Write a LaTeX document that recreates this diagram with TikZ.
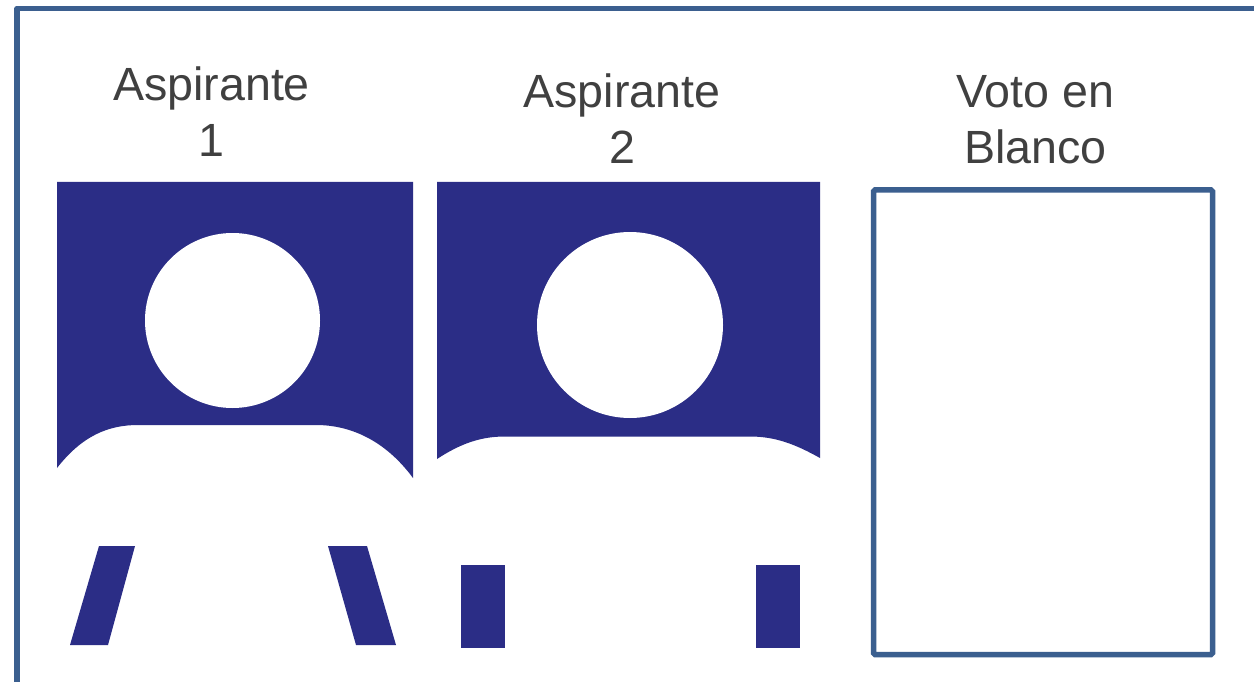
\documentclass[tikz,border=0pt]{standalone}
\usepackage{fontspec}
\setmainfont{Liberation Sans}
\definecolor{frameblue}{HTML}{3B5F8F}
\definecolor{figblue}{HTML}{2B2D86}
\definecolor{labelgrey}{HTML}{404040}
\tikzset{
  framepath/.style={draw=frameblue,line width=5.5pt},
  figfill/.style={fill=figblue,draw=none},
  headnode/.style={circle,fill=white,draw=none,inner sep=0pt},
  labelnode/.style={align=center,text=labelgrey,inner sep=0pt,font=\fontsize{46.6}{56}\selectfont}
}
\begin{document}
\begin{tikzpicture}[x=1pt,y=-1pt]
\useasboundingbox (0,0) rectangle (1254,682);
\fill[white] (0,0) rectangle (1254,682);
% outer frame
\draw[framepath,line cap=butt,line join=round] (17,682) -- (17,8.5) -- (1254,8.5);
% figure 1
\path[figfill] (57,182) -- (413,182) -- (413,478) .. controls (385,440) and (350,425) .. (316,425)
  -- (138,425) .. controls (108,425) and (82,436) .. (57,468) -- cycle;
\path[figfill] (99,546) -- (135,546) -- (108,645) -- (70,645) -- cycle;
\path[figfill] (328,546) -- (367,546) -- (396,645) -- (356,645) -- cycle;
\node[headnode,minimum size=175pt] (head1) at (232.5,320.5) {};
% figure 2
\path[figfill] (437,182) -- (820,182) -- (820,458) .. controls (795,444) and (775,436.5) .. (750,436.5)
  -- (505,436.5) .. controls (480,436.5) and (460,444) .. (437,459) -- cycle;
\path[figfill] (461,565) rectangle (505,648);
\path[figfill] (756,565) rectangle (800,648);
\node[headnode,minimum size=186pt] (head2) at (630,325) {};
% blank box
\node[draw=frameblue,line width=5.5pt,rounded corners=1.5pt,minimum width=339pt,minimum height=464.5pt,inner sep=0pt] (blank) at (1043,422.25) {};
% labels
\node[labelnode] (l1) at (211.5,111.5) {Aspirante\\1};
\node[labelnode] (l2) at (622,118.5) {Aspirante\\2};
\node[labelnode] (l3) at (1035.5,120) {Voto en\\Blanco};
\end{tikzpicture}
\end{document}
